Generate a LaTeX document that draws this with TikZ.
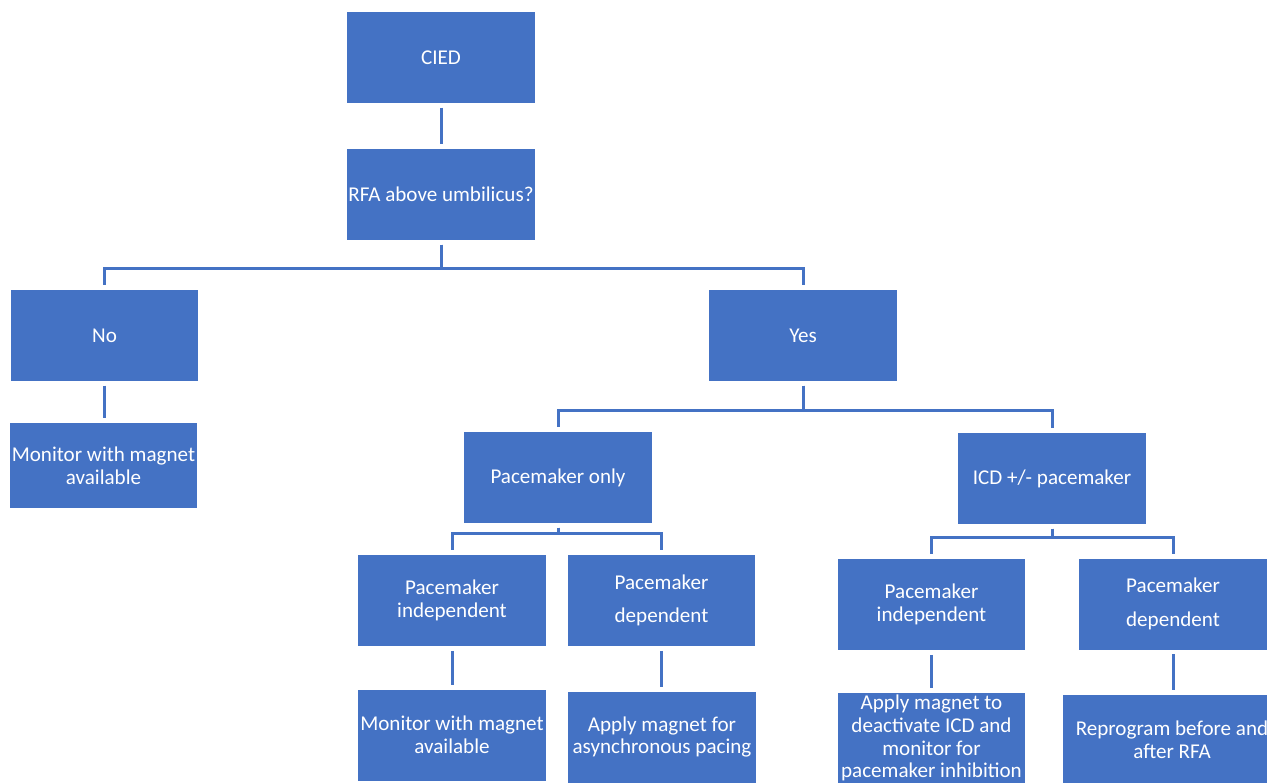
\documentclass[tikz,border=0pt]{standalone}
\usepackage{fontspec}
\setmainfont{Carlito}
\usepackage{xcolor}
\usepackage{tikz}
\definecolor{officeblue}{HTML}{4472C4}

\begin{document}
\begin{tikzpicture}[x=0.02cm, y=-0.02cm,
%
    card/.style={rectangle,fill=officeblue,text=white,align=center,inner sep=0pt,
                 minimum width=3.76cm,minimum height=1.82cm,font=\fontsize{12}{13}\selectfont},
      Ln/.style={draw=officeblue,line width=1.7pt,shorten <=2.5pt,shorten >=2.5pt},
                        ]
    \clip (0,0) rectangle (1267,782);
    \node[card] (cied)      at (441,57.5)  {CIED};
    \node[card] (rfa)       at (441,194.5) {RFA above umbilicus?};
    \node[card] (no)        at (104.5,335.5) {No};
    \node[card] (yes)       at (803,335.5) {Yes};
    \node[card,minimum height=1.7cm] (mon_no) at (103.5,465.5) {Monitor with magnet\\available};
    \node[card] (pm_only)   at (558,477.5) {Pacemaker only};
    \node[card] (icd)       at (1052,478.5) {ICD +/- pacemaker};
    \node[card] (pm_ind_a)  at (452,600.5) {Pacemaker\\independent};
    \node[card] (pm_dep_a)  at (661.5,600.5) {Pacemaker\\[6pt]dependent};
    \node[card] (pm_ind_b)  at (931.5,604.5) {Pacemaker\\independent};
    \node[card] (pm_dep_b)  at (1173,604) {Pacemaker\\[6pt]dependent};
    \node[card] (mon_pm)    at (452,735)   {Monitor with magnet\\available};
    \node[card] (async)     at (662,737)   {Apply magnet for\\asynchronous pacing};
    \node[card] (deact)     at (931.5,738) {Apply magnet to\\deactivate ICD and\\monitor for\\pacemaker inhibition};
    \node[card,minimum width=4.36cm] (reprog) at (1172,740) {Reprogram before and\\after RFA};

    \draw[Ln] (cied) -- (rfa);
    \draw[Ln] (rfa.south) -- ++(0,28) -| (no.north);
    \draw[Ln] (rfa.south) -- ++(0,28) -| (yes.north);
    \draw[Ln] (no.south) -- (no.south |- mon_no.north);
    \draw[Ln] (yes.south) -- ++(0,29) -| (pm_only.north);
    \draw[Ln] (yes.south) -- ++(0,29) -| (icd.north);
    \draw[Ln] (pm_only.south) -- ++(0,10) -| (pm_ind_a.north);
    \draw[Ln] (pm_only.south) -- ++(0,10) -| (pm_dep_a.north);
    \draw[Ln] (icd.south) -- ++(0,13) -| (pm_ind_b.north);
    \draw[Ln] (icd.south) -- ++(0,13) -| (pm_dep_b.north);
    \draw[Ln] (pm_ind_a) -- (mon_pm);
    \draw[Ln] (pm_dep_a.south) -- (pm_dep_a.south |- async.north);
    \draw[Ln] (pm_ind_b) -- (deact);
    \draw[Ln] (pm_dep_b.south) -- (pm_dep_b.south |- reprog.north);

\end{tikzpicture}
\end{document}
